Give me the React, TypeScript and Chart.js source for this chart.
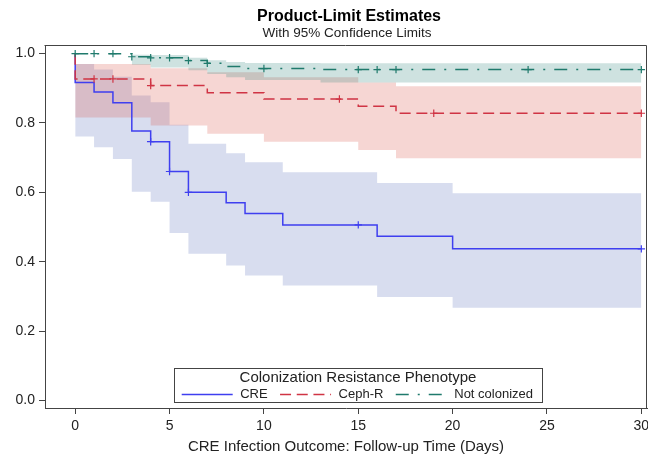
import React, { useEffect, useRef } from "react";
import { Chart, registerables } from "chart.js";

Chart.register(...registerables);

// ---------- data ----------
const xTicks = [0, 5, 10, 15, 20, 25, 30];
const yTicks = [0, 0.2, 0.4, 0.6, 0.8, 1.0];
const groups = ["CRE", "Ceph-R", "Not colonized"];

const creTime = [0, 0, 1, 2, 3, 4, 5, 6, 8, 9, 11, 16, 20, 30];
const creSurv = [1.0, 0.917, 0.889, 0.858, 0.777, 0.746, 0.66, 0.6, 0.57, 0.539, 0.506, 0.473, 0.437, 0.437];
const creBandTime = [0, 1, 2, 3, 4, 5, 6, 8, 9, 11, 16, 20, 30];
const creUpper = [0.97, 0.954, 0.933, 0.879, 0.86, 0.795, 0.74, 0.713, 0.687, 0.658, 0.627, 0.597, 0.597];
const creLower = [0.761, 0.73, 0.696, 0.602, 0.573, 0.483, 0.423, 0.389, 0.36, 0.331, 0.298, 0.267, 0.267];
const creCensor = [4, 5, 6, 15, 30];

const cephTime = [0, 0, 4, 7, 10, 15, 17, 30];
const cephSurv = [1.0, 0.927, 0.908, 0.887, 0.869, 0.848, 0.828, 0.828];
const cephBandTime = [0, 4, 7, 10, 15, 17, 30];
const cephUpper = [0.97, 0.958, 0.946, 0.932, 0.917, 0.906, 0.906];
const cephLower = [0.816, 0.793, 0.769, 0.746, 0.722, 0.698, 0.698];
const cephCensor = [1, 2, 4, 14, 19, 30];

const ncTime = [0, 3, 4, 6, 7, 8, 9, 13, 30];
const ncSurv = [1.0, 0.991, 0.988, 0.98, 0.972, 0.963, 0.957, 0.954, 0.954];
const ncBandTime = [3, 4, 6, 7, 8, 9, 13, 30];
const ncUpper = [0.997, 0.996, 0.988, 0.981, 0.976, 0.973, 0.972, 0.972];
const ncLower = [0.968, 0.96, 0.952, 0.941, 0.932, 0.924, 0.917, 0.917];
const ncCensor = [0, 1, 2, 3, 4, 5, 6, 7, 10, 15, 16, 17, 24, 30];

const titleText = "Product-Limit Estimates";
const subtitleText = "With 95% Confidence Limits";
const xTitle = "CRE Infection Outcome: Follow-up Time (Days)";
const legendTitle = "Colonization Resistance Phenotype";

// ---------- styles ----------
const FONT = "'Liberation Sans', Arial, Helvetica, sans-serif";
const TEXT = "#222";
const FRAME = "#444";
const lineColors = ["#3F3FF0", "#D03444", "#1F7A6C"];
const bandColors = ["rgba(100,120,190,0.25)", "rgba(220,90,80,0.25)", "rgba(60,140,130,0.25)"];
const dashes: number[][] = [[], [11, 5.7], [13, 9, 2, 9]];

function pts(t: number[], v: number[]) {
  return t.map((x, i) => ({ x, y: v[i] }));
}
function stepAt(t: number[], v: number[], at: number) {
  let r = v[0];
  for (let i = 0; i < t.length; i++) if (t[i] <= at) r = v[i];
  return r;
}

const framePlugin = {
  id: "kmFrame",
  afterDraw(chart: any) {
    const { ctx, chartArea: a } = chart;
    ctx.save();
    ctx.strokeStyle = FRAME;
    ctx.lineWidth = 1;
    ctx.beginPath();
    const L = Math.round(a.left) - 0.5;
    const T = Math.round(a.top) - 0.5;
    const R = Math.round(a.right) - 0.5;
    ctx.moveTo(L, T);
    ctx.lineTo(R, T);
    ctx.lineTo(R, Math.round(a.bottom));
    ctx.stroke();

    // titles
    ctx.fillStyle = "#000";
    ctx.textAlign = "center";
    ctx.textBaseline = "middle";
    ctx.font = `bold 16px ${FONT}`;
    ctx.fillText(titleText, 349, 17);
    ctx.fillStyle = TEXT;
    ctx.font = `13.5px ${FONT}`;
    ctx.fillText(subtitleText, 347, 33);

    // legend
    const bx = 174, by = 368, bw = 368, bh = 34;
    ctx.fillStyle = "#fff";
    ctx.fillRect(bx, by, bw, bh);
    ctx.strokeStyle = FRAME;
    ctx.lineWidth = 1;
    ctx.strokeRect(bx + 0.5, by + 0.5, bw, bh);
    ctx.fillStyle = TEXT;
    ctx.font = `15px ${FONT}`;
    ctx.fillText(legendTitle, bx + bw / 2, 378);
    ctx.font = `13px ${FONT}`;
    ctx.textAlign = "left";
    let x = 181.7;
    const y = 394.5;
    groups.forEach((g, i) => {
      ctx.strokeStyle = lineColors[i];
      ctx.lineWidth = 1.5;
      ctx.setLineDash(dashes[i]);
      ctx.beginPath();
      ctx.moveTo(x, y);
      ctx.lineTo(x + 51, y);
      ctx.stroke();
      ctx.setLineDash([]);
      ctx.fillStyle = TEXT;
      ctx.fillText(g, x + 58.5, y);
      x += 58.5 + ctx.measureText(g).width + 12.4;
    });
    ctx.restore();
  },
};

export default function App() {
  const ref = useRef<HTMLCanvasElement | null>(null);

  useEffect(() => {
    if (!ref.current) return;
    const bandTimes = [creBandTime, cephBandTime, ncBandTime];
    const uppers = [creUpper, cephUpper, ncUpper];
    const lowers = [creLower, cephLower, ncLower];
    const times = [creTime, cephTime, ncTime];
    const survs = [creSurv, cephSurv, ncSurv];
    const censors = [creCensor, cephCensor, ncCensor];

    const datasets: any[] = [];
    groups.forEach((g, i) => {
      datasets.push({
        label: g + " lower",
        data: pts(bandTimes[i], lowers[i]),
        stepped: true,
        borderWidth: 0,
        borderColor: "transparent",
        pointRadius: 0,
        fill: false,
        order: 10 - i,
      });
      datasets.push({
        label: g + " upper",
        data: pts(bandTimes[i], uppers[i]),
        stepped: true,
        borderWidth: 0,
        borderColor: "transparent",
        backgroundColor: bandColors[i],
        pointRadius: 0,
        fill: "-1",
        order: 10 - i,
      });
    });
    groups.forEach((g, i) => {
      datasets.push({
        label: g,
        data: pts(times[i], survs[i]),
        stepped: true,
        borderColor: lineColors[i],
        borderWidth: 1.5,
        borderDash: dashes[i],
        pointRadius: 0,
        fill: false,
        order: 5 - i,
      });
      datasets.push({
        label: g + " censored",
        data: censors[i].map((t) => ({ x: t, y: stepAt(times[i], survs[i], t) })),
        showLine: false,
        pointStyle: "cross",
        pointRadius: 3.7,
        pointBorderWidth: 1.2,
        pointBorderColor: lineColors[i],
        borderColor: lineColors[i],
        backgroundColor: lineColors[i],
        fill: false,
        order: 2 - i * 0.1,
      });
    });

    const chart = new Chart(ref.current, {
      type: "line",
      data: { datasets },
      plugins: [framePlugin],
      options: {
        responsive: false,
        animation: false,
        devicePixelRatio: 1,
        layout: { autoPadding: false, padding: { top: 46, right: 1, left: 0, bottom: 0 } },
        plugins: {
          legend: { display: false },
          tooltip: { enabled: false },
          title: { display: false },
        },
        scales: {
          x: {
            type: "linear",
            min: -1.6,
            max: 30.3,
            afterBuildTicks: (s: any) => {
              s.ticks = xTicks.map((v) => ({ value: v }));
            },
            afterFit: (s: any) => {
              s.height = 46;
              s.paddingLeft = 0;
              s.paddingRight = 0;
            },
            grid: { display: true, drawOnChartArea: false, drawTicks: true, tickLength: 6, color: FRAME },
            border: { display: true, color: FRAME, width: 1 },
            ticks: {
              color: TEXT,
              font: { family: FONT, size: 14 },
              padding: 4,
              maxRotation: 0,
              autoSkip: false,
              callback: (v: any) => String(v),
            },
            title: {
              display: true,
              text: xTitle,
              color: TEXT,
              font: { family: FONT, size: 15, lineHeight: 1.0 },
              padding: { top: 0, bottom: 0 },
            },
          },
          y: {
            type: "linear",
            min: -0.022,
            max: 1.022,
            afterBuildTicks: (s: any) => {
              s.ticks = yTicks.map((v) => ({ value: v }));
            },
            afterFit: (s: any) => {
              s.width = 45;
              s.paddingTop = 0;
              s.paddingBottom = 0;
            },
            grid: { display: true, drawOnChartArea: false, drawTicks: true, tickLength: 6, color: FRAME },
            border: { display: true, color: FRAME, width: 1 },
            ticks: {
              color: TEXT,
              font: { family: FONT, size: 14 },
              padding: 4,
              autoSkip: false,
              callback: (v: any) => Number(v).toFixed(1),
            },
          },
        },
      } as any,
    });
    return () => chart.destroy();
  }, []);

  return (
    <div style={{ position: "fixed", left: 0, top: 0, width: 648, height: 454, background: "#fff" }}>
      <canvas ref={ref} width={648} height={454} style={{ display: "block", width: 648, height: 454 }} />
    </div>
  );
}
